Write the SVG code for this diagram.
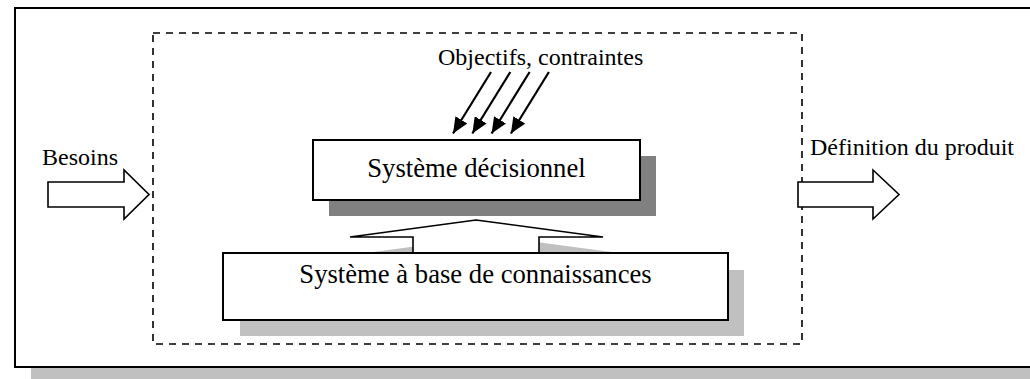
<svg xmlns="http://www.w3.org/2000/svg" width="1030" height="379" viewBox="0 0 1030 379">
<style>
text{font-family:"Liberation Serif","Times New Roman",serif;fill:#000}
.lbl{font-size:24px}
.box{fill:#fff;stroke:#000;stroke-width:2}
.blk{fill:#fff;stroke:#000;stroke-width:1.6;stroke-linejoin:miter}
.sh1{fill:#808080}
.sh2{fill:#c0c0c0}
.diag{stroke:#000;stroke-width:2.2;fill:none;marker-end:url(#ah)}
</style>
<defs>
<marker id="ah" markerUnits="userSpaceOnUse" markerWidth="18" markerHeight="14" viewBox="0 0 18 14" refX="16" refY="7" orient="auto">
<path d="M0,0 L16,7 L0,14 Z" fill="#000"/>
</marker>
</defs>
<rect width="1030" height="379" fill="#fff"/>
<g id="frame">
<rect class="sh2" x="31" y="368" width="1010" height="12"/>
<rect x="15" y="8" width="1030" height="359" fill="#fff" stroke="#000" stroke-width="2"/>
</g>
<g id="boundary">
<rect x="153" y="33" width="649" height="311" fill="none" stroke="#000" stroke-width="1.6" stroke-dasharray="7 6"/>
</g>
<g id="label-objectifs">
<text class="lbl" x="438" y="65">Objectifs, contraintes</text>
</g>
<g id="systeme-decisionnel">
<rect class="sh1" x="329" y="156" width="327" height="60"/>
<rect class="box" x="313" y="140" width="327" height="60"/>
<text x="476.5" y="177" font-size="26.67" text-anchor="middle">Système décisionnel</text>
</g>
<g id="connectors">
<path class="diag" d="M491,72 L453,133.5"/>
<path class="diag" d="M510.3,72 L472.3,133.5"/>
<path class="diag" d="M529.6,72 L491.6,133.5"/>
<path class="diag" d="M548.9,72 L510.9,133.5"/>
<polygon class="blk" points="48,182 124,182 124,170 149,194.5 124,219 124,207 48,207"/>
<polygon class="blk" points="798,182 873,182 873,170 899,194.5 873,219 873,207 798,207"/>
<polygon class="sh2" points="492,236 619,253 555,253 555,269 429,269 429,253 366,253"/>
<polygon class="blk" points="476,220 603,237 539,237 539,254 413,254 413,237 350,237"/>
</g>
<g id="systeme-base">
<rect class="sh2" x="240" y="270" width="504" height="66"/>
<rect class="box" x="223" y="253" width="505" height="67"/>
<text x="475.5" y="283" font-size="26.67" text-anchor="middle">Système à base de connaissances</text>
</g>
<g id="label-besoins">
<text class="lbl" x="42" y="165">Besoins</text>
</g>
<g id="label-definition">
<text class="lbl" x="810" y="155">Définition du produit</text>
</g>
</svg>
